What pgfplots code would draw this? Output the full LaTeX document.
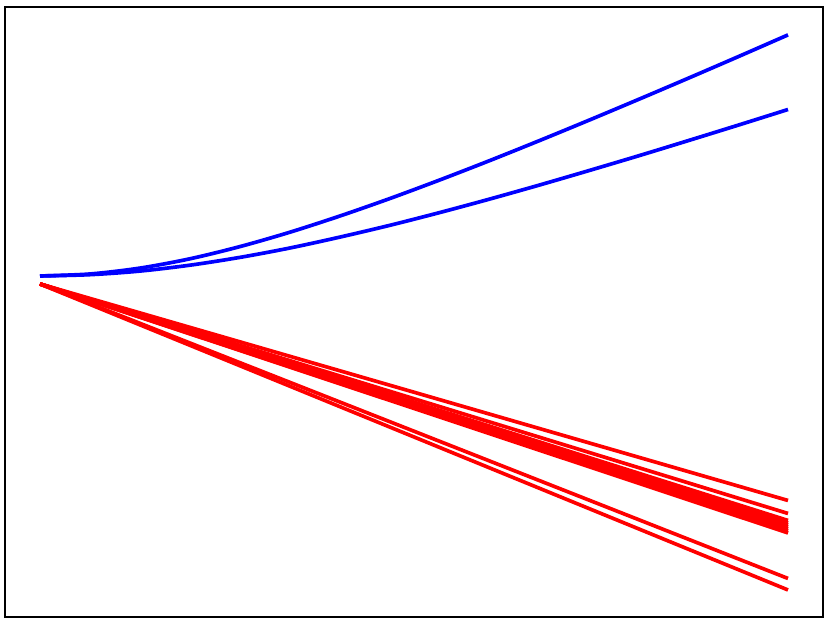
\documentclass[border=0pt]{standalone}
\usepackage{pgfplots}
\pgfplotsset{compat=1.18}
\definecolor{pblue}{RGB}{0,0,255}
\definecolor{pred}{RGB}{255,0,0}

\begin{document}
\begin{tikzpicture}
\begin{axis}[width=245.4pt,height=183pt,scale only axis,
 xmin=5,xmax=823,ymin=8,ymax=618,
 xtick=\empty,ytick=\empty,axis line style={line width=0.6pt,black},
 every axis plot/.append style={line width=1.1pt}]
 % growing curves
 \addplot[pblue,smooth] coordinates {(40,349) (90,351.0) (140,356.9) (190,366.2) (240,378.4) (290,392.8)
  (340,409.0) (390,426.5) (440,445.1) (490,464.5) (540,484.6) (590,505.2) (640,526.2) (690,547.5)
  (740,569.1) (788,590.1)};
 \addplot[pblue,smooth] coordinates {(40,349) (90,350.3) (140,353.9) (190,359.8) (240,367.6) (290,377.0)
  (340,387.9) (390,399.7) (440,412.5) (490,426.0) (540,440.1) (590,454.7) (640,469.6) (690,484.9)
  (740,500.4) (788,515.5)};
 % decaying lines
 \addplot[pred] coordinates {(40,341) (788,124.5)};
 \addplot[pred] coordinates {(40,341) (788,111.5)};
 \addplot[pred] coordinates {(40,341) (788,104.5)};
 \addplot[pred] coordinates {(40,341) (788,102)};
 \addplot[pred] coordinates {(40,341) (788,100)};
 \addplot[pred] coordinates {(40,341) (788,98)};
 \addplot[pred] coordinates {(40,341) (788,96)};
 \addplot[pred] coordinates {(40,341) (788,94)};
 \addplot[pred] coordinates {(40,341) (788,92)};
 \addplot[pred] coordinates {(40,341) (788,46.5)};
 \addplot[pred] coordinates {(40,341) (788,35)};
\end{axis}
\useasboundingbox ([xshift=-1.5pt,yshift=-2.4pt]current axis.south west)
 rectangle ([xshift=2.4pt,yshift=2.1pt]current axis.north east);
\end{tikzpicture}
\end{document}
